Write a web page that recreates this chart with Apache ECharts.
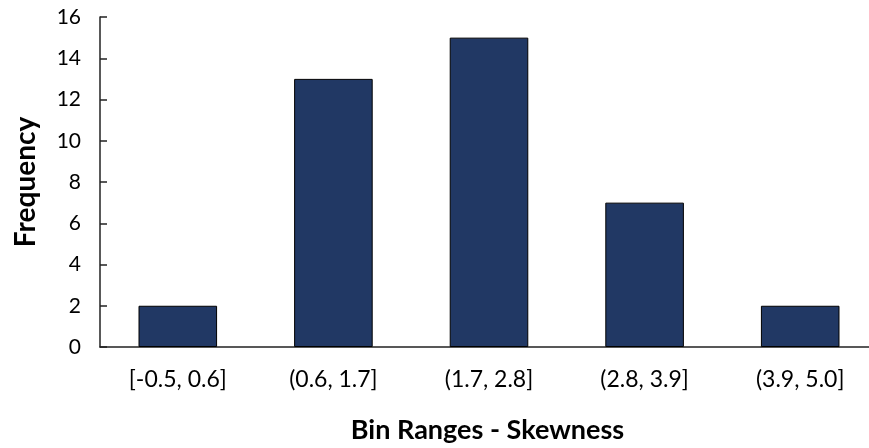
<!DOCTYPE html>
<html><head><meta charset="utf-8">
<script src="https://cdn.jsdelivr.net/npm/echarts@6/dist/echarts.min.js"></script>
<style>html,body{margin:0;padding:0;background:#fff}#c{width:869px;height:448px}</style>
</head><body><div id="c"></div>
<script>
const categories = ['[-0.5, 0.6]', '(0.6, 1.7]', '(1.7, 2.8]', '(2.8, 3.9]', '(3.9, 5.0]'];
const frequency = [2, 13, 15, 7, 2];
const yTicks = [0, 2, 4, 6, 8, 10, 12, 14, 16];

const chart = echarts.init(document.getElementById('c'), null, {renderer: 'canvas'});
const font = 'Lato, "Open Sans", sans-serif';
chart.setOption({
  animation: false,
  grid: {left: 100, top: 17, width: 778, height: 330, containLabel: false, outerBoundsMode: 'none'},
  xAxis: {
    type: 'category', data: categories,
    axisLine: {lineStyle: {color: '#222', width: 1.5}},
    axisTick: {show: false},
    axisLabel: {color: '#000', fontSize: 23, fontFamily: font, margin: 21},
    name: 'Bin Ranges - Skewness', nameLocation: 'middle', nameGap: 70,
    nameTextStyle: {color: '#000', fontSize: 27, fontWeight: 'bold', fontFamily: font, padding: [0, 0, 0, -3]}
  },
  yAxis: {
    type: 'value', min: yTicks[0], max: yTicks[yTicks.length - 1], interval: 2,
    axisLine: {show: true, lineStyle: {color: '#222', width: 1.5}},
    axisTick: {show: true, inside: true, length: 7, lineStyle: {color: '#222', width: 1.5}},
    splitLine: {show: false},
    axisLabel: {color: '#000', fontSize: 21, fontFamily: font, margin: 19},
    name: 'Frequency', nameLocation: 'middle', nameGap: 60,
    nameTextStyle: {color: '#000', fontSize: 28, fontWeight: 'bold', fontFamily: font}
  },
  series: [{
    type: 'bar', data: frequency, barWidth: '50.5%',
    itemStyle: {color: '#213864', borderColor: '#000', borderWidth: 1}
  }]
});
</script></body></html>
